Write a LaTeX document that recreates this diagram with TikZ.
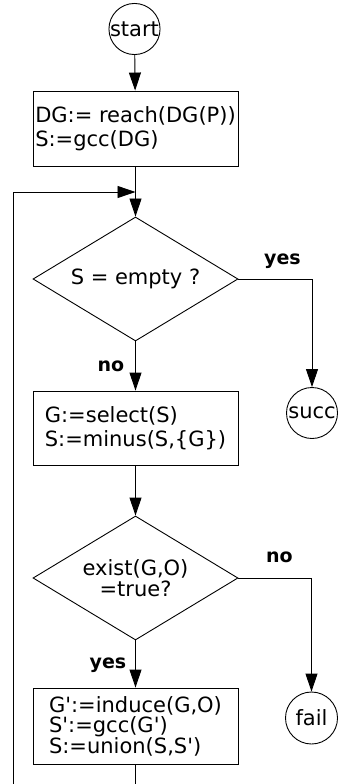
\documentclass[tikz,border=0pt]{standalone}
\usepackage{fontspec}
\newfontfamily\dv{DejaVu Sans}
\usetikzlibrary{arrows.meta,shapes.geometric}
\begin{document}
\begin{tikzpicture}[x=1pt,y=-1pt,
  line width=0.9pt,
  arr/.style={-{Triangle[length=18pt,width=12pt]}},
  boxnode/.style={draw,rectangle,minimum width=205pt,inner sep=0pt,align=left,
    font=\dv\fontsize{21}{24}\selectfont},
  dianode/.style={draw,diamond,aspect=1.65,minimum width=205pt,minimum height=124pt,inner sep=0pt,align=center,
    font=\dv\fontsize{21}{20.5}\selectfont},
  termnode/.style={draw,circle,inner sep=0pt,font=\dv\fontsize{21}{24}\selectfont},
  lbl/.style={anchor=base,inner sep=0pt,font=\dv\fontsize{19}{22}\selectfont\bfseries}]
\useasboundingbox (0,0) rectangle (342,784);
\clip (0,0) rectangle (342,784);
\node[termnode,minimum size=51pt] (start) at (134.5,29) {start};
\node[boxnode,minimum height=75pt] (b1) at (135.5,128.5) {DG:= reach(DG(P))\\S:=gcc(DG)};
\node[dianode] (d1) at (135.5,279) {S = empty ?};
\node[termnode,minimum size=51pt] (succ) at (312,413) {succ};
\node[boxnode,minimum height=74pt] (b2) at (135.5,428) {G:=select(S)\\S:=minus(S,\{G\})};
\node[dianode] (d2) at (135.5,578) {exist(G,O)\\=true?};
\node[termnode,minimum size=52pt] (fail) at (311.5,718) {fail};
\node[boxnode,minimum height=76pt,font=\dv\fontsize{21}{20.5}\selectfont] (b3) at (135.5,726) {G':=induce(G,O)\\S':=gcc(G')\\S:=union(S,S')};
\coordinate (lb) at (135.5,800);
\coordinate (ll) at (13,800);
\coordinate (lt) at (13,192);
\coordinate (lm) at (135.5,192);
\draw[arr] (start) -- (b1);
\draw[arr] (b1) -- (d1);
\draw[arr] (b3.south) -- (lb) -- (ll) -- (lt) -- (lm);
\draw[arr] (d1.east) -| (succ.north);
\draw[arr] (d1.south) -- (b2.north);
\draw[arr] (b2) -- (d2);
\draw[arr] (d2.east) -| (fail.north);
\draw[arr] (d2.south) -- (b3.north);
\node[lbl] (yes1) at (282.5,264) {yes};
\node[lbl] (no1) at (111,371.5) {no};
\node[lbl] (no2) at (279.5,562.5) {no};
\node[lbl] (yes2) at (108,668) {yes};
\end{tikzpicture}
\end{document}
